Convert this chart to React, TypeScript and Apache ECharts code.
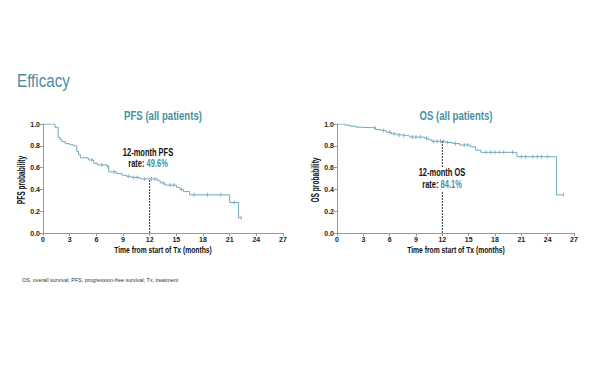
import React, { useEffect, useRef } from "react";
import * as echarts from "echarts";

const xTicks = [0, 3, 6, 9, 12, 15, 18, 21, 24, 27];

const pfsTime = [0, 1.35, 1.7, 1.9, 2.1, 2.5, 3.0, 3.4, 3.8, 4.0, 4.2, 5.1, 5.7, 6.1, 7.2, 7.4, 8.3, 8.9, 9.4, 9.9, 10.9, 12.9, 13.2, 13.7, 15.0, 15.4, 15.8, 16.5, 21.0, 22.0, 22.3];
const pfsSurv = [1.0, 0.97, 0.88, 0.86, 0.84, 0.82, 0.81, 0.8, 0.75, 0.72, 0.69, 0.67, 0.64, 0.625, 0.61, 0.56, 0.545, 0.53, 0.52, 0.51, 0.496, 0.48, 0.46, 0.44, 0.42, 0.4, 0.38, 0.35, 0.28, 0.14, 0.14];
const pfsCensorTime = [5.5, 6.6, 7.3, 8.0, 9.6, 10.2, 10.6, 11.4, 12.2, 12.6, 13.5, 14.3, 14.7, 15.6, 17.0, 18.5, 20.0, 21.5, 22.3];
const pfsCensorSurv = [0.67, 0.625, 0.61, 0.56, 0.52, 0.51, 0.51, 0.496, 0.496, 0.496, 0.46, 0.44, 0.44, 0.4, 0.35, 0.35, 0.35, 0.28, 0.14];

const osTime = [0, 0.9, 1.5, 2.2, 2.8, 4.4, 5.0, 5.6, 6.2, 6.8, 7.4, 7.9, 8.3, 10.0, 10.4, 10.8, 12.4, 13.2, 14.0, 15.2, 15.8, 16.4, 20.5, 25.0, 25.8];
const osSurv = [1.0, 0.99, 0.98, 0.97, 0.965, 0.95, 0.94, 0.925, 0.91, 0.9, 0.895, 0.89, 0.88, 0.87, 0.855, 0.841, 0.83, 0.82, 0.807, 0.79, 0.76, 0.74, 0.7, 0.35, 0.35];
const osCensorTime = [4.3, 5.3, 6.0, 6.5, 7.1, 7.6, 8.6, 9.0, 9.5, 10.2, 11.0, 11.4, 11.8, 12.1, 12.6, 13.5, 14.5, 14.9, 17.0, 17.5, 18.0, 18.5, 19.0, 20.0, 21.0, 21.5, 22.3, 22.8, 23.3, 24.0, 25.8];
const osCensorSurv = [0.965, 0.94, 0.925, 0.91, 0.9, 0.895, 0.88, 0.88, 0.88, 0.87, 0.841, 0.841, 0.841, 0.841, 0.83, 0.82, 0.807, 0.807, 0.74, 0.74, 0.74, 0.74, 0.74, 0.74, 0.7, 0.7, 0.7, 0.7, 0.7, 0.7, 0.35];

const pfsRate = 0.496;
const osRate = 0.841;
const landmark = 12;

const FONT = "'Liberation Sans', Arial, sans-serif";
const TEAL = "#4a8fa2";
const CURVE = "#6eaabd";

const zip = (a: number[], b: number[]) => a.map((v, i) => [v, b[i]]);

export default function App() {
  const ref = useRef<HTMLDivElement>(null);
  useEffect(() => {
    if (!ref.current) return;
    const chart = echarts.init(ref.current, null, { renderer: "svg" });
    const axisLabel = { fontSize: 7, fontWeight: "bold" as const, color: "#222", fontFamily: FONT, margin: 3 };
    const axisLine = { show: true, lineStyle: { color: "#999", width: 1 } };
    const axisTick = { show: true, length: 3, lineStyle: { color: "#999" } };
    const mkX = (gi: number) => ({
      type: "value" as const,
      gridIndex: gi,
      min: 0,
      max: 27,
      interval: 3,
      axisLine,
      axisTick,
      splitLine: { show: false },
      axisLabel,
    });
    const mkY = (gi: number) => ({
      type: "value" as const,
      gridIndex: gi,
      min: 0,
      max: 1,
      interval: 0.2,
      axisLine,
      axisTick,
      splitLine: { show: false },
      axisLabel: { ...axisLabel, formatter: (v: number) => v.toFixed(1) },
    });
    const curve = (gi: number, data: number[][]) => ({
      type: "line" as const,
      xAxisIndex: gi,
      yAxisIndex: gi,
      step: "end" as const,
      data,
      showSymbol: false,
      symbol: "none",
      lineStyle: { color: CURVE, width: 1 },
      silent: true,
    });
    const censor = (gi: number, data: number[][]) => ({
      type: "scatter" as const,
      xAxisIndex: gi,
      yAxisIndex: gi,
      data,
      symbol: "rect",
      symbolSize: [1, 4],
      itemStyle: { color: CURVE },
      silent: true,
    });
    const dash = (gi: number, rate: number) => ({
      type: "line" as const,
      xAxisIndex: gi,
      yAxisIndex: gi,
      data: [[landmark, 0], [landmark, rate]],
      symbol: "none",
      lineStyle: { color: "#333", width: 1, type: [2, 1] as any },
      silent: true,
    });
    const rich = {
      b: { fontSize: 10, fontWeight: "bold" as const, fill: "#111", fontFamily: FONT },
      t: { fontSize: 10, fontWeight: "bold" as const, fill: TEAL, fontFamily: FONT },
    };
    const ctext = (x: number, y: number, text: string, size: number, color: string, sx: number, weight = "bold", rotation = 0) => ({
      type: "text",
      x,
      y,
      scaleX: sx,
      rotation,
      style: { text, fontSize: size, fontWeight: weight, fill: color, fontFamily: FONT, align: "center", verticalAlign: "middle" },
    });
    const note = (x: number, y: number, text: string) => ({
      type: "text",
      x,
      y,
      scaleX: 0.75,
      z: 10,
      style: { text, rich, align: "center", verticalAlign: "middle", backgroundColor: "#fff", padding: [1, 2] },
    });
    chart.setOption({
      animation: false,
      textStyle: { fontFamily: FONT },
      grid: [
        { left: 43, top: 124, width: 240, height: 109 },
        { left: 337, top: 124, width: 237, height: 109 },
      ],
      xAxis: [mkX(0), mkX(1)],
      yAxis: [mkY(0), mkY(1)],
      series: [
        curve(0, zip(pfsTime, pfsSurv)),
        censor(0, zip(pfsCensorTime, pfsCensorSurv)),
        dash(0, pfsRate),
        curve(1, zip(osTime, osSurv)),
        censor(1, zip(osCensorTime, osCensorSurv)),
        dash(1, osRate),
      ],
      graphic: [
        { type: "text", x: 17, y: 80, scaleX: 0.8, style: { text: "Efficacy", fontSize: 19, fill: TEAL, fontFamily: FONT, verticalAlign: "middle" } },
        ctext(163, 116, "PFS (all patients)", 12, TEAL, 0.8),
        ctext(456, 116, "OS (all patients)", 12, TEAL, 0.8),
        ctext(163, 250, "Time from start of Tx (months)", 9, "#111", 0.75),
        ctext(456, 250, "Time from start of Tx (months)", 9, "#111", 0.75),
        ctext(21.5, 180, "PFS probability", 10, "#111", 0.66, "bold", Math.PI / 2),
        ctext(315, 180, "OS probability", 10, "#111", 0.66, "bold", Math.PI / 2),
        note(148, 153, "{b|12-month PFS}"),
        note(148, 164, "{b|rate: }{t|" + (pfsRate * 100).toFixed(1) + "%}"),
        note(442, 173, "{b|12-month OS}"),
        note(442, 185, "{b|rate: }{t|" + (osRate * 100).toFixed(1) + "%}"),
        { type: "text", x: 22, y: 280, scaleX: 0.9, style: { text: "OS, overall survival; PFS, progression-free survival; Tx, treatment", fontSize: 6, fill: "#333", fontFamily: FONT, verticalAlign: "middle" } },
      ],
    });
    return () => chart.dispose();
  }, []);
  return <div ref={ref} style={{ position: "fixed", left: 0, top: 0, width: 600, height: 365, background: "#fff" }} />;
}
